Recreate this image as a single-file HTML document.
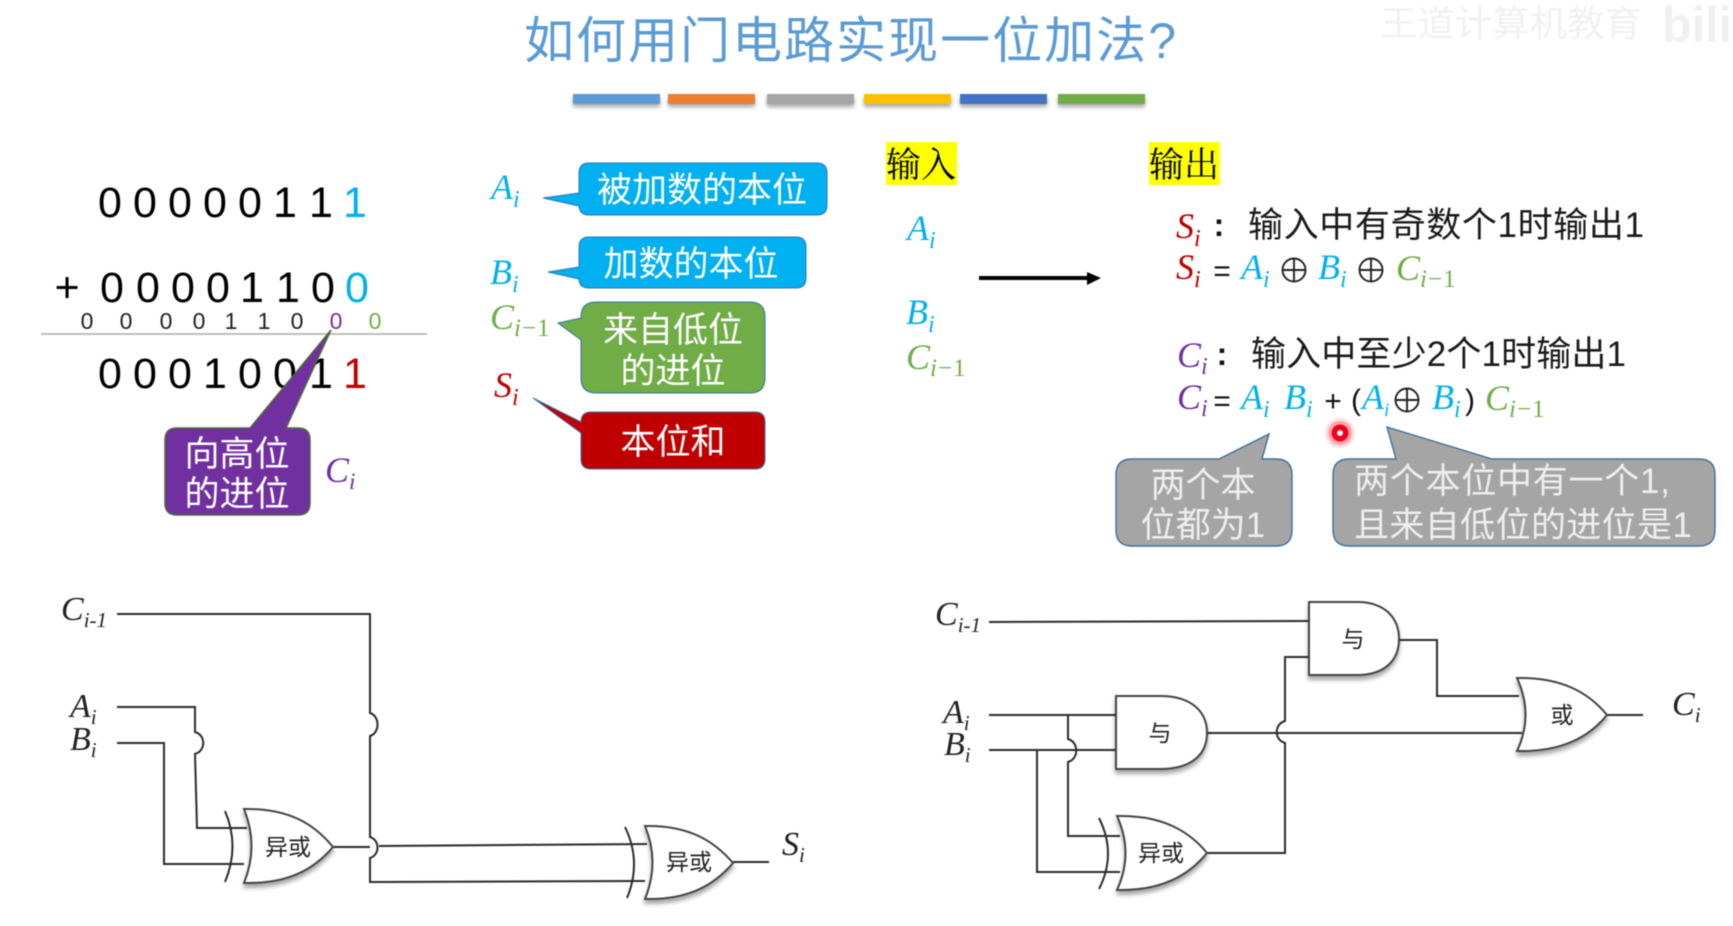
<!DOCTYPE html>
<html><head><meta charset="utf-8">
<style>
html,body{margin:0;padding:0;background:#fff}
body{width:1733px;height:926px;overflow:hidden}
svg{display:block;filter:blur(.6px)}
text{font-family:"Liberation Sans","Noto Sans CJK SC",sans-serif}
.song{font-family:"Liberation Serif","Noto Serif CJK SC",serif;font-size:35px;fill:#000}
.m{font-family:"Liberation Serif","Noto Serif CJK SC",serif;font-style:italic;font-size:36px}
.n{font-family:"Liberation Serif",serif;font-style:italic;font-size:34px;fill:#222}
.d{font-size:43px;fill:#000}
.c{font-size:23px}
.w{fill:#fff;font-size:35px;text-anchor:middle}
.g{fill:#eee;font-size:35px}
.gt{font-size:23px;fill:#222;text-anchor:middle}
.wire{fill:none;stroke:#2b2b2b;stroke-width:2}
.gate{fill:#fff;stroke:#444;stroke-width:2;filter:drop-shadow(0 4px 2px rgba(0,0,0,.35))}
.eq{font-size:30px;fill:#111}
.t{font-size:35px;fill:#1a1a1a}
.s1{font-size:25px;letter-spacing:1px}
</style></head><body>
<svg width="1733" height="926" viewBox="0 0 1733 926" xmlns="http://www.w3.org/2000/svg">
<rect width="1733" height="926" fill="#fff"/>

<!-- watermark -->
<text x="1380" y="36" font-size="36" fill="#f1f1f1" textLength="262" lengthAdjust="spacingAndGlyphs">王道计算机教育</text>
<text x="1662" y="42" font-size="50" font-weight="bold" fill="#f0f0f0" textLength="70" lengthAdjust="spacingAndGlyphs">bili</text>

<!-- title -->
<text x="524" y="58" font-size="50" fill="#5b9bd5" textLength="652" lengthAdjust="spacing">如何用门电路实现一位加法?</text>

<!-- colour bars -->
<g style="filter:drop-shadow(0 3px 2px rgba(0,0,0,.35))">
<rect x="573" y="94" width="87" height="10" fill="#5b9bd5"/>
<rect x="668" y="94" width="87" height="10" fill="#ed7d31"/>
<rect x="767" y="94" width="87" height="10" fill="#a5a5a5"/>
<rect x="864" y="94" width="87" height="10" fill="#ffc000"/>
<rect x="960" y="94" width="87" height="10" fill="#4472c4"/>
<rect x="1058" y="94" width="87" height="10" fill="#70ad47"/>
</g>

<!-- binary addition -->
<text class="d" text-anchor="middle" y="217" x="110">0</text>
<text class="d" text-anchor="middle" y="217" x="145">0</text>
<text class="d" text-anchor="middle" y="217" x="180">0</text>
<text class="d" text-anchor="middle" y="217" x="215">0</text>
<text class="d" text-anchor="middle" y="217" x="250">0</text>
<text class="d" text-anchor="middle" y="217" x="285">1</text>
<text class="d" text-anchor="middle" y="217" x="321">1</text>
<text class="d" text-anchor="middle" y="217" x="355" style="fill:#00b0f0">1</text>

<text class="d" text-anchor="middle" y="302" x="67">+</text>
<text class="d" text-anchor="middle" y="302" x="112">0</text>
<text class="d" text-anchor="middle" y="302" x="148">0</text>
<text class="d" text-anchor="middle" y="302" x="183">0</text>
<text class="d" text-anchor="middle" y="302" x="218">0</text>
<text class="d" text-anchor="middle" y="302" x="252">1</text>
<text class="d" text-anchor="middle" y="302" x="288">1</text>
<text class="d" text-anchor="middle" y="302" x="323">0</text>
<text class="d" text-anchor="middle" y="302" x="357" style="fill:#00b0f0">0</text>

<g text-anchor="middle" fill="#222">
<text class="c" y="329" x="87">0</text>
<text class="c" y="329" x="126">0</text>
<text class="c" y="329" x="166">0</text>
<text class="c" y="329" x="199">0</text>
<text class="c" y="329" x="231">1</text>
<text class="c" y="329" x="264">1</text>
<text class="c" y="329" x="297">0</text>
<text class="c" y="329" x="336" fill="#7030a0">0</text>
<text class="c" y="329" x="375" fill="#70ad47">0</text>
</g>
<line x1="41" y1="334" x2="427" y2="334" stroke="#aaa" stroke-width="1.4"/>

<text class="d" text-anchor="middle" y="388" x="110">0</text>
<text class="d" text-anchor="middle" y="388" x="145">0</text>
<text class="d" text-anchor="middle" y="388" x="180">0</text>
<text class="d" text-anchor="middle" y="388" x="215">1</text>
<text class="d" text-anchor="middle" y="388" x="250">0</text>
<text class="d" text-anchor="middle" y="388" x="285">0</text>
<text class="d" text-anchor="middle" y="388" x="321">1</text>
<text class="d" text-anchor="middle" y="388" x="355" style="fill:#c00000">1</text>

<!-- purple callout -->
<path d="M177 428 H250 L331 330 L286 428 H298 Q310 428 310 440 V503 Q310 515 298 515 H177 Q165 515 165 503 V440 Q165 428 177 428 Z" fill="#7030a0" stroke="#4e6b3a" stroke-width="1.5"/>
<text class="w" x="237" y="466" font-size="34">向高位</text>
<text class="w" x="237" y="506" font-size="34">的进位</text>
<text class="m" x="325" y="482" fill="#7030a0">C<tspan font-size="23" dy="7">i</tspan></text>

<!-- left labels and callouts -->
<text class="m" x="491" y="199" fill="#00b0f0">A<tspan font-size="24" dy="8">i</tspan></text>
<path d="M589 163 H817 Q827 163 827 173 V205 Q827 215 817 215 H589 Q579 215 579 205 V206 L543 198 L579 193 V173 Q579 163 589 163 Z" fill="#00b0f0" stroke="#2e75b6" stroke-width="1"/>
<text class="w" x="702" y="202">被加数的本位</text>

<text class="m" x="490" y="284" fill="#00b0f0">B<tspan font-size="24" dy="8">i</tspan></text>
<path d="M589 237 H796 Q806 237 806 247 V278 Q806 288 796 288 H589 Q579 288 579 279 L548 272 L579 267 V247 Q579 237 589 237 Z" fill="#00b0f0" stroke="#2e75b6" stroke-width="1"/>
<text class="w" x="691" y="276">加数的本位</text>

<text class="m" x="490" y="329" fill="#70ad47">C<tspan class="s1" dy="7">i</tspan><tspan class="s1" font-style="normal">−1</tspan></text>
<path d="M596 302 H750 Q765 302 765 317 V378 Q765 393 750 393 H596 Q581 393 581 378 V340 L558 323 L581 318 V317 Q581 302 596 302 Z" fill="#70ad47" stroke="#2e75b6" stroke-width="1"/>
<text class="w" x="673" y="342">来自低位</text>
<text class="w" x="673" y="383">的进位</text>

<text class="m" x="494" y="397" fill="#c00000">S<tspan font-size="24" dy="8">i</tspan></text>
<path d="M591 412 H755 Q765 412 765 422 V459 Q765 469 755 469 H591 Q581 469 581 459 V433 L533 398 L581 422 Q581 412 591 412 Z" fill="#c00000" stroke="#2e75b6" stroke-width="1"/>
<text class="w" x="673" y="454">本位和</text>

<!-- input / output -->
<rect x="886" y="142" width="71" height="43" fill="#ffff00"/>
<text class="song" x="886" y="177">输入</text>
<rect x="1149" y="142" width="71" height="43" fill="#ffff00"/>
<text class="song" x="1149" y="177">输出</text>

<text class="m" x="907" y="240" fill="#00b0f0">A<tspan font-size="24" dy="8">i</tspan></text>
<text class="m" x="906" y="324" fill="#00b0f0">B<tspan font-size="24" dy="8">i</tspan></text>
<text class="m" x="906" y="369" fill="#70ad47">C<tspan class="s1" dy="7">i</tspan><tspan class="s1" font-style="normal">−1</tspan></text>

<line x1="979" y1="278" x2="1090" y2="278" stroke="#000" stroke-width="4"/>
<path d="M1087 272 L1101 278 L1087 285 Z" fill="#000"/>

<!-- Si -->
<text class="m" x="1176" y="238" fill="#c00000">S<tspan font-size="24" dy="8">i</tspan></text>
<text x="1219" y="236" font-size="32" font-weight="bold" fill="#111" text-anchor="middle">:</text>
<text class="t" x="1248" y="237" textLength="396" lengthAdjust="spacing">输入中有奇数个1时输出1</text>

<text class="m" x="1176" y="279" fill="#c00000">S<tspan font-size="24" dy="8">i</tspan></text>
<text class="eq" x="1222" y="281" text-anchor="middle">=</text>
<text class="m" x="1241" y="279" fill="#00b0f0">A<tspan font-size="24" dy="8">i</tspan></text>
<g fill="none" stroke="#222" stroke-width="1.9">
<circle cx="1294" cy="270" r="11.5"/><path d="M1282.5 270H1305.5M1294 258.500V281.500"/>
<circle cx="1371" cy="270" r="11.5"/><path d="M1359.500 270H1382.500M1371 258.500V281.500"/>
</g>
<text class="m" x="1318" y="279" fill="#00b0f0">B<tspan font-size="24" dy="8">i</tspan></text>
<text class="m" x="1396" y="280" fill="#70ad47">C<tspan class="s1" dy="7">i</tspan><tspan class="s1" font-style="normal">−1</tspan></text>

<!-- Ci -->
<text class="m" x="1177" y="367" fill="#7030a0">C<tspan font-size="24" dy="7">i</tspan></text>
<text x="1222" y="365" font-size="32" font-weight="bold" fill="#111" text-anchor="middle">:</text>
<text class="t" x="1251" y="366" textLength="375" lengthAdjust="spacing">输入中至少2个1时输出1</text>

<text class="m" x="1177" y="409" fill="#7030a0">C<tspan font-size="24" dy="7">i</tspan></text>
<text class="eq" x="1222" y="411" text-anchor="middle">=</text>
<text class="m" x="1241" y="409" fill="#00b0f0">A<tspan font-size="24" dy="8">i</tspan></text>
<text class="m" x="1284" y="409" fill="#00b0f0">B<tspan font-size="24" dy="8">i</tspan></text>
<text class="eq" x="1333" y="411" text-anchor="middle">+</text>
<text class="eq" x="1351" y="410" font-size="32">(</text>
<text class="m" x="1362" y="409" fill="#00b0f0">A<tspan font-size="19" dy="7">i</tspan></text>
<g fill="none" stroke="#222" stroke-width="1.9">
<circle cx="1407" cy="400" r="11.500"/><path d="M1395.500 400H1418.500M1407 388.500V411.500"/>
</g>
<text class="m" x="1432" y="409" fill="#00b0f0">B<tspan font-size="24" dy="8">i</tspan></text>
<text class="eq" x="1465" y="410" font-size="32">)</text>
<text class="m" x="1485" y="410" fill="#70ad47">C<tspan class="s1" dy="7">i</tspan><tspan class="s1" font-style="normal">−1</tspan></text>

<!-- laser dot -->
<circle cx="1340" cy="433" r="15" fill="#ff2030" opacity=".15"/>
<circle cx="1340" cy="433" r="12" fill="#ff2030" opacity=".3"/>
<circle cx="1340" cy="433" r="8.500" fill="#f0001c"/>
<circle cx="1340" cy="433" r="3" fill="#fff"/>

<!-- grey callouts -->
<path d="M1132 459 H1219 L1269 434 L1262 459 H1276 Q1292 459 1292 475 V530 Q1292 546 1276 546 H1132 Q1116 546 1116 530 V475 Q1116 459 1132 459 Z" fill="#a5a5a5" stroke="#41719c" stroke-width="1.4"/>
<text class="g" x="1203" y="497" text-anchor="middle">两个本</text>
<text class="g" x="1203" y="537" text-anchor="middle">位都为1</text>

<path d="M1349 459 H1396 L1387 427 L1492 459 H1699 Q1715 459 1715 475 V530 Q1715 546 1699 546 H1349 Q1333 546 1333 530 V475 Q1333 459 1349 459 Z" fill="#a5a5a5" stroke="#41719c" stroke-width="1.4"/>
<text class="g" x="1354" y="493" textLength="316" lengthAdjust="spacing">两个本位中有一个1,</text>
<text class="g" x="1354" y="537" textLength="338" lengthAdjust="spacing">且来自低位的进位是1</text>

<!-- LEFT CIRCUIT -->
<text class="n" x="61" y="620">C<tspan font-size="21" dy="7">i-1</tspan></text>
<text class="n" x="70" y="717">A<tspan font-size="21" dy="7">i</tspan></text>
<text class="n" x="70" y="750">B<tspan font-size="21" dy="7">i</tspan></text>
<path class="wire" d="M117 614 H370 V713 C380 716 380 733 370 736 V837 C380 840 380 855 370 858 V882 L645 881"/>
<path class="wire" d="M117 707 H195 V732 C206 735 206 751 195 754 L197 828 H247"/>
<path class="wire" d="M117 743 H164 V864 H244"/>
<path class="wire" d="M333 847 H370 M379 846 L647 844"/>
<path class="wire" d="M733 862 H769"/>
<path class="gate" d="M244 809 C290 808 315 825 333 847 C315 868 290 884 244 883 Q259 846 244 809 Z"/>
<path class="wire" d="M225 811 Q240 846 225 882"/>
<text class="gt" x="288" y="855">异或</text>
<path class="gate" d="M645 826 C690 825 715 842 733 863 C715 884 690 900 645 899 Q660 862 645 826 Z"/>
<path class="wire" d="M625 827 Q642 862 627 898"/>
<text class="gt" x="689" y="870">异或</text>
<text class="n" x="782" y="855">S<tspan font-size="21" dy="7">i</tspan></text>

<!-- RIGHT CIRCUIT -->
<text class="n" x="935" y="625">C<tspan font-size="21" dy="7">i-1</tspan></text>
<text class="n" x="943" y="723">A<tspan font-size="21" dy="7">i</tspan></text>
<text class="n" x="944" y="755">B<tspan font-size="21" dy="7">i</tspan></text>
<text class="n" x="1672" y="715">C<tspan font-size="21" dy="7">i</tspan></text>

<path class="wire" d="M989 622 L1309 621"/>
<path class="wire" d="M1309 657 H1285 V721 C1274 724 1274 740 1285 743 V853 H1207"/>
<path class="wire" d="M1399 640 H1437 V696 H1519"/>
<path class="wire" d="M1207 733 H1522"/>
<path class="wire" d="M1607 715 H1643"/>
<path class="wire" d="M989 715 H1116"/>
<path class="wire" d="M989 750 H1116"/>
<path class="wire" d="M1068 715 V739 C1079 742 1079 759 1068 762 V836 H1120"/>
<path class="wire" d="M1037 750 V872 H1120"/>

<path class="gate" d="M1309 602 H1357 C1385 602 1399 618 1399 639 C1399 660 1385 675 1357 675 H1309 Z"/>
<text class="gt" x="1353" y="647">与</text>
<path class="gate" d="M1116 696 H1160 C1192 696 1207 712 1207 733 C1207 754 1192 769 1160 769 H1116 Z"/>
<text class="gt" x="1160" y="741">与</text>
<path class="gate" d="M1517 678 C1562 677 1589 693 1607 715 C1589 737 1562 752 1517 751 Q1534 715 1517 678 Z"/>
<text class="gt" x="1562" y="723">或</text>
<path class="gate" d="M1117 816 C1162 815 1189 831 1207 853 C1189 875 1162 891 1117 890 Q1134 853 1117 816 Z"/>
<path class="wire" d="M1099 818 Q1117 854 1099 889"/>
<text class="gt" x="1161" y="861">异或</text>
</svg>
</body></html>
